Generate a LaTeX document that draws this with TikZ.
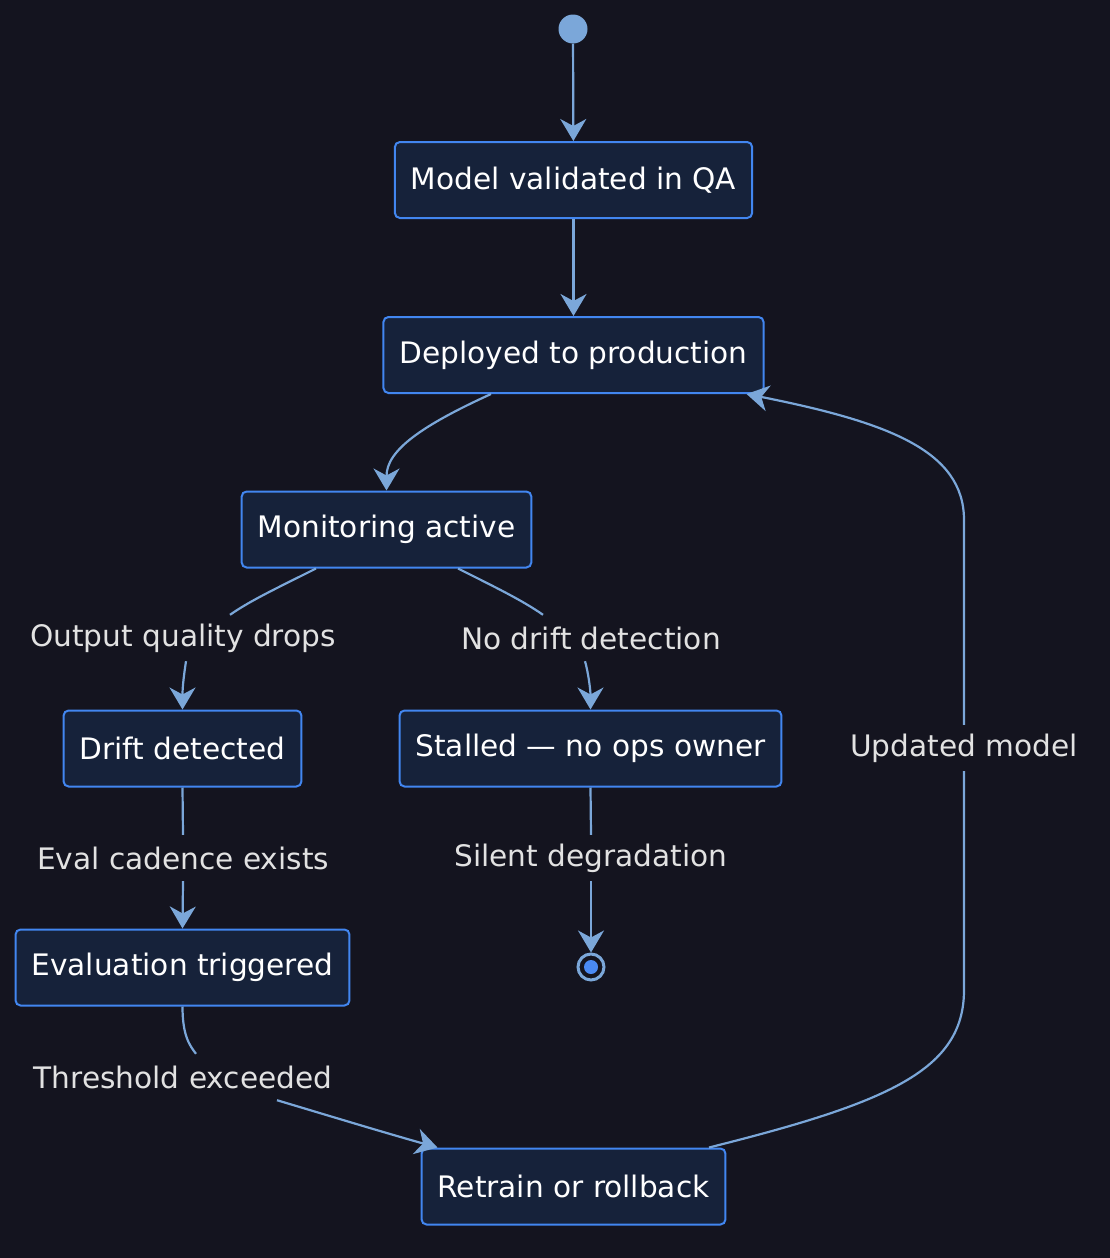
\documentclass[tikz,border=0pt]{standalone}
\usepackage{fontspec}
\setmainfont{DejaVu Sans}
\usetikzlibrary{arrows.meta}
\definecolor{bgc}{HTML}{14141F}
\definecolor{boxfill}{HTML}{16223A}
\definecolor{boxline}{HTML}{4286F0}
\definecolor{edgec}{HTML}{7BA7D9}
\definecolor{lblc}{HTML}{E2E2E2}
\definecolor{endin}{HTML}{4A8AF4}
\tikzset{
  statebox/.style={draw=boxline, line width=2pt, fill=boxfill, rounded corners=5pt,
    text=white, font=\fontsize{29.6}{34}\selectfont, inner xsep=16pt, minimum height=76pt},
  lbl/.style={text=lblc, font=\fontsize{29.6}{34}\selectfont, inner sep=0pt, minimum height=46pt},
  edge/.style={draw=edgec, line width=2.2pt},
  arr/.style={edge, -{Stealth[length=22pt,width=26pt,inset=7pt]}},
}
\begin{document}
\begin{tikzpicture}[x=1pt,y=-1pt]
\fill[bgc] (0,0) rectangle (1110,1258);
\useasboundingbox (0,0) rectangle (1110,1258);

\node[circle, fill=edgec, minimum size=29pt, inner sep=0pt] (start) at (573,29) {};
\node[statebox] (qa) at (573.5,180) {Model validated in QA};
\node[statebox] (dep) at (573.5,355) {Deployed to production};
\node[statebox] (mon) at (386.5,529.5) {Monitoring active};
\node[statebox] (drift) at (182.5,748.5) {Drift detected};
\node[statebox] (stall) at (590.5,748.5) {Stalled — no ops owner};
\node[statebox] (eval) at (182.5,967.5) {Evaluation triggered};
\node[statebox] (retr) at (573.5,1186.5) {Retrain or rollback};

\node[circle, draw=edgec, line width=3pt, fill=bgc, minimum size=26pt, inner sep=0pt] (end) at (591,967) {};
\node[circle, fill=endin, minimum size=14pt, inner sep=0pt] (endc) at (end.center) {};

\node[lbl] (oqd) at (183,638) {Output quality drops};
\node[lbl] (ndd) at (591,638) {No drift detection};
\node[lbl] (ece) at (183,858) {Eval cadence exists};
\node[lbl] (sd) at (591,858) {Silent degradation};
\node[lbl] (te) at (183,1077) {Threshold exceeded};
\node[lbl] (um) at (964,748) {Updated model};

\draw[arr] (start) -- (qa);
\draw[arr] (qa) -- (dep);
\draw[arr] ([xshift=-82.5pt]dep.south) .. controls +(-70,32) and +(0,-40) .. (mon.north);

\draw[edge] ([xshift=-70.5pt]mon.south) .. controls +(-40,20) and +(20,-14) .. ([xshift=47pt]oqd.north);
\draw[arr] ([xshift=3pt]oqd.south) .. controls +(-3,20) and +(0,-20) .. (drift.north);
\draw[edge] ([xshift=71.5pt]mon.south) .. controls +(40,20) and +(-20,-14) .. ([xshift=-48pt]ndd.north);
\draw[arr] ([xshift=-6pt]ndd.south) .. controls +(3,10) and +(0,-20) .. (stall.north);

\draw[edge] (drift.south) -- (ece.north);
\draw[arr] (ece.south) -- (eval.north);
\draw[edge] (stall.south) -- (sd.north);
\draw[arr] (sd.south) -- (end.north);

\draw[edge] (eval.south) .. controls +(0,30) and +(-6,-8) .. ([xshift=13pt]te.north);
\draw[arr] ([xshift=94pt]te.south) .. controls +(60,18) and +(-50,-14) .. ([xshift=-136pt]retr.north);

\coordinate (rb) at (964,990);
\coordinate (rt) at (964,520);
\draw[edge] ([xshift=135.5pt]retr.north) .. controls +(180,-45) and +(0,80) .. (rb) -- (um.south);
\draw[arr] (um.north) -- (rt) .. controls +(0,-70) and +(140,28) .. ([xshift=-18pt]dep.south east);
\end{tikzpicture}
\end{document}
